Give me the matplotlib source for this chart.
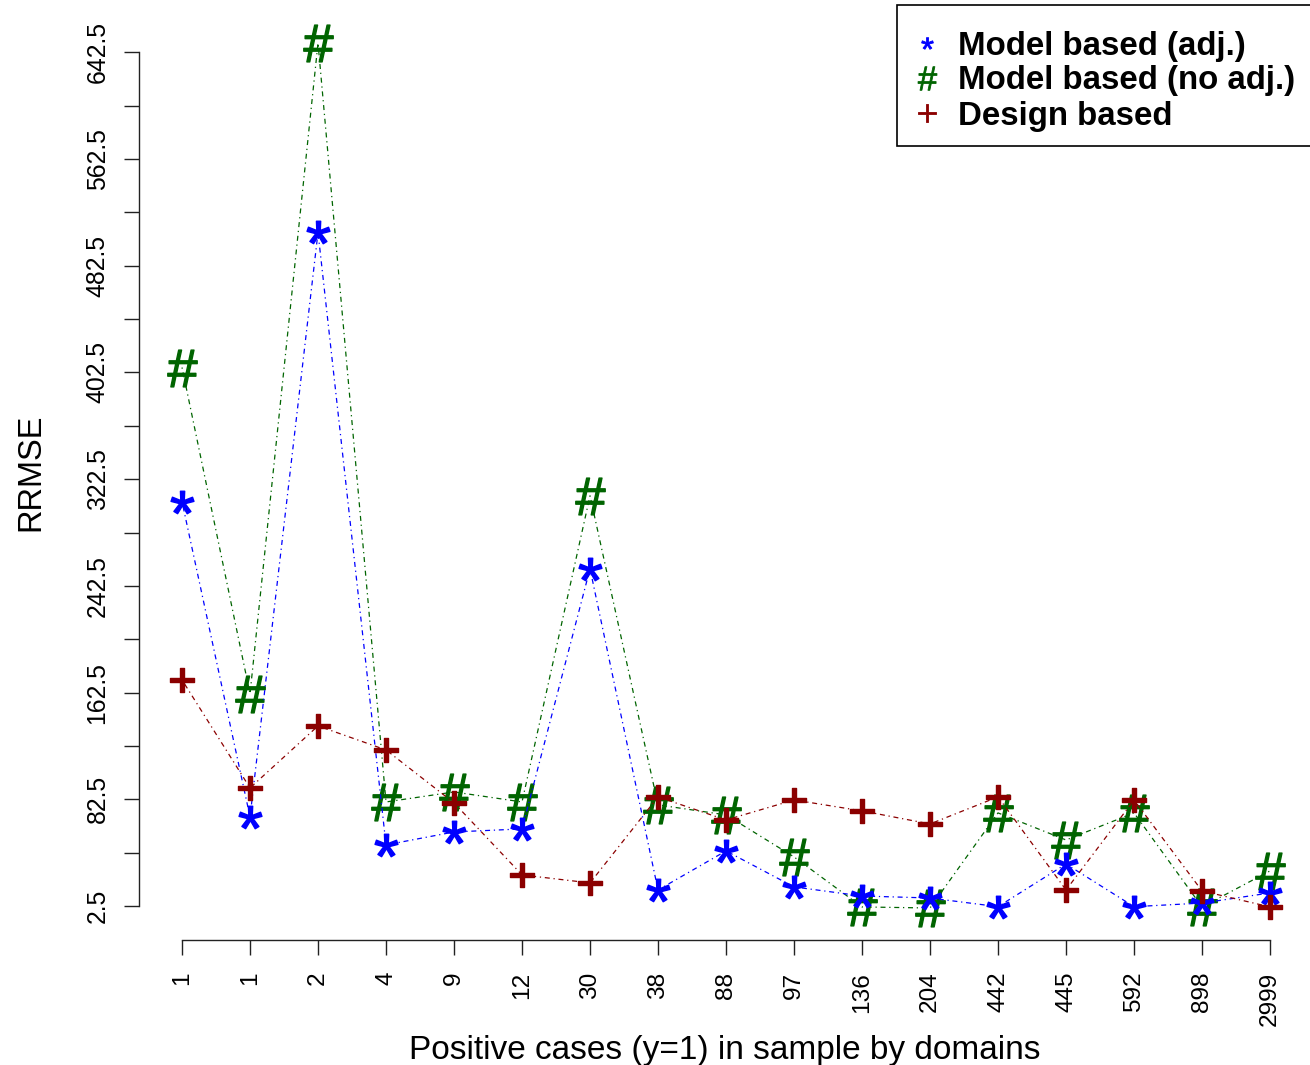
import numpy as np
import matplotlib
matplotlib.use("Agg")
import matplotlib.pyplot as plt
from matplotlib.textpath import TextPath
from matplotlib.font_manager import FontProperties
from matplotlib.path import Path
from matplotlib.patches import Rectangle
from matplotlib.lines import Line2D

# ---------------- data ----------------
categories = ['1', '1', '2', '4', '9', '12', '30', '38', '88', '97',
              '136', '204', '442', '445', '592', '898', '2999']
model_adj = [305.6, 69.3, 507.5, 48.3, 58.0, 60.3, 255.3, 14.5, 43.8, 16.8,
             10.0, 8.5, 2.0, 34.0, 2.0, 4.7, 12.3]
model_noadj = [406.2, 161.6, 649.5, 80.5, 88.0, 80.5, 310.0, 78.3, 70.8, 39.3,
               1.8, 1.0, 72.3, 52.0, 72.3, 1.8, 28.8]
design = [172.0, 91.0, 137.5, 119.5, 79.8, 25.8, 19.8, 84.3, 67.0, 82.0,
          73.8, 64.0, 84.3, 14.5, 82.0, 13.8, 1.8]
series_labels = ['Model based (adj.)', 'Model based (no adj.)', 'Design based']
y_ticks = [2.5 + 40 * i for i in range(17)]
y_labeled = [2.5 + 80 * i for i in range(9)]

FONT = 'Liberation Sans'
plt.rcParams['font.family'] = [FONT, 'DejaVu Sans']

BLUE = '#0000FF'
GREEN = '#006400'
RED = '#8B0000'


def glyph_marker(ch):
    tp = TextPath((0, 0), ch, size=1, prop=FontProperties(family=FONT))
    v = tp.vertices.copy()
    codes = tp.codes
    real = codes != Path.CLOSEPOLY
    x0, x1 = v[real, 0].min(), v[real, 0].max()
    y0, y1 = v[real, 1].min(), v[real, 1].max()
    v[:, 0] -= (x0 + x1) / 2
    v[:, 1] -= (y0 + y1) / 2
    v[~real] = 0.0
    return Path(v, codes)


m_star = glyph_marker('*')
m_hash = glyph_marker('#')
m_plus = glyph_marker('+')

W, H = 1310, 1065
fig = plt.figure(figsize=(W / 100, H / 100), dpi=100)
left_px, right_px, top_px, bot_px = 138.5, 1310, 8, 940
ax = fig.add_axes([left_px / W, 1 - bot_px / H, (right_px - left_px) / W,
                   (bot_px - top_px) / H])

x = np.arange(1, len(categories) + 1)
ls = (0, (1, 3, 4, 3))

ax.plot(x, model_noadj, color=GREEN, lw=0.9, ls=ls, marker=m_hash,
        markersize=26.5, mfc=GREEN, mec=GREEN, mew=1.0, zorder=2)
ax.plot(x, model_adj, color=BLUE, lw=0.9, ls=ls, marker=m_star,
        markersize=16.5, mfc=BLUE, mec=BLUE, mew=1.0, zorder=3)
ax.plot(x, design, color=RED, lw=0.9, ls=ls, marker=m_plus,
        markersize=17.3, mfc=RED, mec=RED, mew=1.0, zorder=4)

# axis limits (R style 4% extension)
ax.set_xlim(0.36, 0.36 + (right_px - left_px) / 68.0)
ppu = 1.3339
ax.set_ylim(2.5 - (bot_px - 906) / ppu, 2.5 + (906 - top_px) / ppu)

for s in ['top', 'right']:
    ax.spines[s].set_visible(False)
ax.spines['left'].set_bounds(y_ticks[0], y_ticks[-1])
ax.spines['bottom'].set_bounds(1, len(categories))
for s in ['left', 'bottom']:
    ax.spines[s].set_linewidth(1.0)
    ax.spines[s].set_color('#222222')

ax.set_yticks(y_ticks)
ax.set_yticklabels([('%g' % v if v in y_labeled else '') for v in y_ticks],
                   rotation=90, va='center', fontsize=17.8)
ax.set_xticks(x)
ax.set_xticklabels(categories, rotation=90, fontsize=17.6)
ax.tick_params(axis='both', length=10.8, width=1.0, color='#222222')
ax.tick_params(axis='y', pad=10)
ax.tick_params(axis='x', pad=12)

fig.text(725 / W, 1 - 1050 / H, 'Positive cases (y=1) in sample by domains',
         ha='center', va='center', fontsize=24)
fig.text(31 / W, 1 - 472 / H, 'RRMSE', rotation=90, ha='center', va='center',
         fontsize=23.5)

# legend
fig.patches.append(Rectangle((897 / W, 1 - 146 / H), (1320 - 897) / W,
                             (146 - 5) / H, transform=fig.transFigure,
                             fill=True, facecolor='white', edgecolor='black',
                             lw=1.2, zorder=10))
rows = [43, 78, 113]
lg_markers = [(m_star, BLUE, 8.5), (m_hash, GREEN, 17.0), (m_plus, RED, 13.0)]
for (mk, col, ms), lab, ry in zip(lg_markers, series_labels, rows):
    fig.add_artist(Line2D([927 / W], [1 - ry / H], transform=fig.transFigure,
                          marker=mk, markersize=ms, mfc=col, mec=col, mew=0.6,
                          ls='none', zorder=11))
    fig.text(958 / W, 1 - (ry + 3) / H, lab, ha='left', va='center',
             fontsize=23.8, fontweight='bold', zorder=11)

fig.savefig('out.png', dpi=100)
